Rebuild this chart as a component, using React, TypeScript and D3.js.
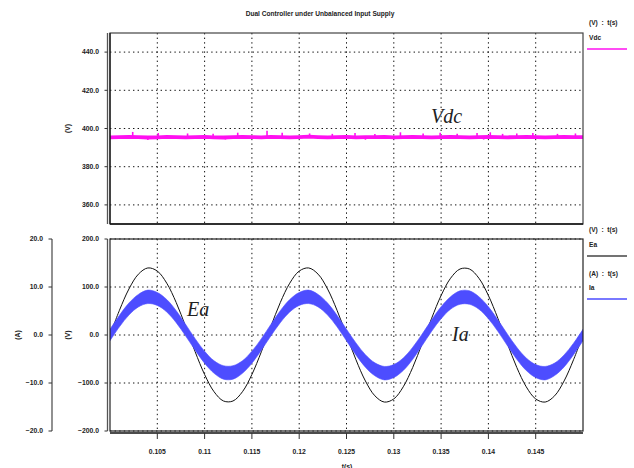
import React from "react";
import * as d3 from "d3";

// Sample instants (ms) shared by the waveforms
const sampleMs = [
  100, 101, 102, 103, 104, 105, 106, 107, 108, 109,
  110, 111, 112, 113, 114, 115, 116, 117, 118, 119,
  120, 121, 122, 123, 124, 125, 126, 127, 128, 129,
  130, 131, 132, 133, 134, 135, 136, 137, 138, 139,
  140, 141, 142, 143, 144, 145, 146, 147, 148, 149, 150,
];

// DC-link voltage (V)
const vdcValues = [
  395.4, 395.5, 395.6, 395.5, 395.3, 395.4, 395.6, 395.5, 395.4, 395.5,
  395.6, 395.4, 395.3, 395.5, 395.6, 395.5, 395.4, 395.6, 395.5, 395.4,
  395.5, 395.7, 395.5, 395.4, 395.5, 395.6, 395.4, 395.5, 395.5, 395.6,
  395.4, 395.5, 395.6, 395.5, 395.4, 395.5, 395.6, 395.5, 395.4, 395.5,
  395.6, 395.5, 395.4, 395.5, 395.6, 395.5, 395.4, 395.5, 395.6, 395.5, 395.5,
];

// Short switching spikes on Vdc: [time ms, peak V]
const vdcSpikes: [number, number][] = [
  [102.4, 398.2], [104.0, 394.0], [105.1, 397.6], [108.2, 397.4], [110.9, 397.2],
  [112.2, 394.2], [113.5, 397.8], [116.6, 398.8], [118.2, 397.8], [121.1, 397.4],
  [123.5, 397.2], [125.9, 397.6], [127.0, 394.1], [128.0, 397.1], [130.7, 398.0],
  [133.1, 397.4], [134.9, 397.8], [136.7, 397.2], [138.8, 397.6], [139.5, 394.2],
  [140.2, 398.0], [141.5, 397.2], [143.0, 397.4], [144.7, 397.6], [147.3, 397.2],
  [149.2, 397.4],
];

// Phase-a supply voltage Ea (V)
const eaValues = [
  0, 51.5, 95.8, 126.7, 139.7, 133.2, 107.9, 67.5, 17.5, -34.8,
  -82.3, -118.2, -137.5, -137.5, -118.2, -82.3, -34.8, 17.5, 67.5, 107.9,
  133.2, 139.7, 126.7, 95.8, 51.5, 0, -51.5, -95.8, -126.7, -139.7,
  -133.2, -107.9, -67.5, -17.5, 34.8, 82.3, 118.2, 137.5, 137.5, 118.2,
  82.3, 34.8, -17.5, -67.5, -107.9, -133.2, -139.7, -126.7, -95.8, -51.5, 0,
];

// Phase-a current Ia (A): mean value and ripple half-width
const iaValues = [
  0, 2.91, 5.41, 7.15, 7.95, 7.51, 6.09, 3.81, 0.99, -1.96,
  -4.64, -6.67, -7.8, -7.8, -6.67, -4.64, -1.96, 0.99, 3.81, 6.09,
  7.51, 7.95, 7.15, 5.41, 2.91, 0, -2.91, -5.41, -7.15, -7.95,
  -7.51, -6.09, -3.81, -0.99, 1.96, 4.64, 6.67, 7.8, 7.8, 6.67,
  4.64, 1.96, -0.99, -3.81, -6.09, -7.51, -7.95, -7.15, -5.41, -2.91, 0,
];
const iaRipple = [
  1.2, 1.2, 1.25, 1.3, 1.4, 1.35, 1.3, 1.25, 1.2, 1.2,
  1.25, 1.3, 1.4, 1.4, 1.3, 1.25, 1.2, 1.2, 1.25, 1.3,
  1.35, 1.4, 1.3, 1.25, 1.2, 1.2, 1.25, 1.3, 1.35, 1.4,
  1.35, 1.3, 1.25, 1.2, 1.2, 1.25, 1.3, 1.4, 1.4, 1.3,
  1.25, 1.2, 1.2, 1.25, 1.3, 1.35, 1.4, 1.3, 1.25, 1.2, 1.2,
];

const xTicks = [0.105, 0.11, 0.115, 0.12, 0.125, 0.13, 0.135, 0.14, 0.145];
const xTickLabels = ["0.105", "0.11", "0.115", "0.12", "0.125", "0.13", "0.135", "0.14", "0.145"];
const vdcTicks = [360, 380, 400, 420, 440];
const voltTicks = [-200, -100, 0, 100, 200];
const ampTicks = [-20, -10, 0, 10, 20];

const W = 634;
const H = 468;
const LEFT = 110;
const RIGHT = 583;
const TOP1 = 33;
const BOT1 = 224;
const TOP2 = 239;
const BOT2 = 431;

const FONT = "'Liberation Sans', Arial, Helvetica, sans-serif";
const SERIF = "'Liberation Serif', 'Times New Roman', serif";
const MAGENTA = "#ff10f0";
const BLUE = "#4d4dff";
const GRID = "1.4 3.2";

export default function App() {
  const x = d3.scaleLinear().domain([0.1, 0.15]).range([LEFT, RIGHT]);
  const yVdc = d3.scaleLinear().domain([350, 450]).range([BOT1, TOP1]);
  const yV = d3.scaleLinear().domain([-200, 200]).range([BOT2, TOP2]);
  const yA = d3.scaleLinear().domain([-20, 20]).range([BOT2, TOP2]);

  const t = (ms: number) => ms / 1000;

  const vdcLine = d3
    .line<number>()
    .x((_, i) => x(t(sampleMs[i])))
    .y((v) => yVdc(v))
    .curve(d3.curveLinear)(vdcValues) as string;

  const eaLine = d3
    .line<number>()
    .x((_, i) => x(t(sampleMs[i])))
    .y((v) => yV(v))
    .curve(d3.curveCatmullRom)(eaValues) as string;

  const iaArea = d3
    .area<number>()
    .x((_, i) => x(t(sampleMs[i])))
    .y0((v, i) => yA(v - iaRipple[i]))
    .y1((v, i) => yA(v + iaRipple[i]))
    .curve(d3.curveCatmullRom)(iaValues) as string;

  const interp = (ms: number) => {
    const i = Math.min(sampleMs.length - 2, Math.floor(ms - sampleMs[0]));
    const f = (ms - sampleMs[i]) / (sampleMs[i + 1] - sampleMs[i]);
    return vdcValues[i] * (1 - f) + vdcValues[i + 1] * f;
  };

  const txt = { fontFamily: FONT, fontWeight: 700, fill: "#222" } as const;

  return (
    <svg
      width={W}
      height={H}
      viewBox={`0 0 ${W} ${H}`}
      style={{ position: "absolute", left: 0, top: 0, background: "#fff" }}
    >
      <defs>
        <clipPath id="clipTop">
          <rect x={LEFT} y={TOP1} width={RIGHT - LEFT} height={BOT1 - TOP1} />
        </clipPath>
        <clipPath id="clipBot">
          <rect x={LEFT} y={TOP2} width={RIGHT - LEFT} height={BOT2 - TOP2 + 2} />
        </clipPath>
      </defs>

      {/* Title */}
      <text x={320} y={15.5} textAnchor="middle" fontSize={6.6} {...txt}>
        Dual Controller under Unbalanced Input Supply
      </text>

      {/* ===== Upper panel: Vdc ===== */}
      {xTicks.map((v) => (
        <line key={`gx1${v}`} x1={x(v)} x2={x(v)} y1={TOP1} y2={BOT1} stroke="#111" strokeWidth={1} strokeDasharray={GRID} />
      ))}
      {vdcTicks.map((v) => (
        <line key={`gy1${v}`} x1={LEFT} x2={RIGHT} y1={yVdc(v)} y2={yVdc(v)} stroke="#111" strokeWidth={1} strokeDasharray={GRID} />
      ))}
      <g clipPath="url(#clipTop)">
        <path d={vdcLine} fill="none" stroke={MAGENTA} strokeWidth={3.8} strokeLinejoin="round" />
        {vdcSpikes.map(([ms, v]) => (
          <line
            key={`sp${ms}`}
            x1={x(t(ms))}
            x2={x(t(ms))}
            y1={yVdc(interp(ms))}
            y2={yVdc(v)}
            stroke={MAGENTA}
            strokeWidth={1.6}
          />
        ))}
      </g>
      <rect x={LEFT} y={TOP1} width={RIGHT - LEFT} height={BOT1 - TOP1} fill="none" stroke="#444" strokeWidth={1.2} />
      <line x1={LEFT} x2={RIGHT} y1={BOT1} y2={BOT1} stroke="#111" strokeWidth={1.4} />
      <line x1={LEFT} x2={LEFT} y1={TOP1} y2={BOT1} stroke="#111" strokeWidth={1.2} />
      <line x1={107.5} x2={107.5} y1={TOP1} y2={BOT1} stroke="#555" strokeWidth={1.3} />
      {vdcTicks.map((v) => (
        <g key={`ty1${v}`}>
          <line x1={104.5} x2={107.5} y1={yVdc(v)} y2={yVdc(v)} stroke="#333" strokeWidth={1} />
          <text x={99} y={yVdc(v)} dy="0.35em" textAnchor="end" fontSize={6.8} {...txt}>
            {d3.format(".1f")(v)}
          </text>
        </g>
      ))}
      <text transform={`translate(70,${yVdc(400)}) rotate(-90)`} textAnchor="middle" fontSize={6.8} {...txt}>
        (V)
      </text>
      <text x={431} y={123} fontSize={20} fontStyle="italic" fontFamily={SERIF} fill="#222">
        Vdc
      </text>

      {/* ===== Lower panel: Ea, Ia ===== */}
      {xTicks.map((v) => (
        <line key={`gx2${v}`} x1={x(v)} x2={x(v)} y1={TOP2} y2={BOT2} stroke="#111" strokeWidth={1} strokeDasharray={GRID} />
      ))}
      {voltTicks.map((v) => (
        <line key={`gy2${v}`} x1={LEFT} x2={RIGHT} y1={yV(v)} y2={yV(v)} stroke="#111" strokeWidth={1} strokeDasharray={GRID} />
      ))}
      <g clipPath="url(#clipBot)">
        <path d={eaLine} fill="none" stroke="#111" strokeWidth={1} />
        <path d={iaArea} fill={BLUE} stroke={BLUE} strokeWidth={0.6} />
      </g>
      <rect x={LEFT} y={TOP2} width={RIGHT - LEFT} height={BOT2 - TOP2} fill="none" stroke="#222" strokeWidth={1.2} />
      <line x1={107.5} x2={107.5} y1={TOP2} y2={BOT2} stroke="#555" strokeWidth={1.3} />
      <line x1={LEFT} x2={RIGHT} y1={433} y2={433} stroke="#111" strokeWidth={1.4} />
      {voltTicks.map((v) => (
        <g key={`ty2${v}`}>
          <line x1={104.5} x2={107.5} y1={yV(v)} y2={yV(v)} stroke="#333" strokeWidth={1} />
          <text x={99} y={yV(v)} dy="0.35em" textAnchor="end" fontSize={6.8} {...txt}>
            {d3.format(".1f")(v).replace("-", "\u2212")}
          </text>
        </g>
      ))}
      <line x1={52} x2={52} y1={TOP2} y2={BOT2} stroke="#555" strokeWidth={1.3} />
      {ampTicks.map((v) => (
        <g key={`ta${v}`}>
          <line x1={48.5} x2={52} y1={yA(v)} y2={yA(v)} stroke="#333" strokeWidth={1} />
          <text x={43} y={yA(v)} dy="0.35em" textAnchor="end" fontSize={6.8} {...txt}>
            {d3.format(".1f")(v).replace("-", "\u2212")}
          </text>
        </g>
      ))}
      <text transform={`translate(70,${yV(0)}) rotate(-90)`} textAnchor="middle" fontSize={6.8} {...txt}>
        (V)
      </text>
      <text transform={`translate(20,${yA(0)}) rotate(-90)`} textAnchor="middle" fontSize={6.8} {...txt}>
        (A)
      </text>
      {xTicks.map((v, i) => (
        <g key={`tx${v}`}>
          <line x1={x(v)} x2={x(v)} y1={433} y2={439} stroke="#333" strokeWidth={1} />
          <text x={x(v)} y={454} textAnchor="middle" fontSize={6.8} {...txt}>
            {xTickLabels[i]}
          </text>
        </g>
      ))}
      <text x={347} y={468.5} textAnchor="middle" fontSize={6.8} {...txt}>
        t(s)
      </text>
      <text x={187} y={316} fontSize={20} fontStyle="italic" fontFamily={SERIF} fill="#222">
        Ea
      </text>
      <text x={452} y={341} fontSize={20} fontStyle="italic" fontFamily={SERIF} fill="#222">
        Ia
      </text>

      {/* ===== Legends ===== */}
      <text x={589} y={25} fontSize={6.6} {...txt} xmlSpace="preserve">
        (V)  :  t(s)
      </text>
      <text x={589} y={40} fontSize={6.6} {...txt}>
        Vdc
      </text>
      <line x1={587} x2={627} y1={49} y2={49} stroke={MAGENTA} strokeWidth={1.5} />

      <text x={589} y={231.5} fontSize={6.6} {...txt} xmlSpace="preserve">
        (V)  :  t(s)
      </text>
      <text x={589} y={246.5} fontSize={6.6} {...txt}>
        Ea
      </text>
      <line x1={587} x2={627} y1={256} y2={256} stroke="#444" strokeWidth={1.4} />

      <text x={589} y={275.5} fontSize={6.6} {...txt} xmlSpace="preserve">
        (A)  :  t(s)
      </text>
      <text x={589} y={289.5} fontSize={6.6} {...txt}>
        Ia
      </text>
      <line x1={587} x2={627} y1={299} y2={299} stroke={BLUE} strokeWidth={1.5} />
    </svg>
  );
}
